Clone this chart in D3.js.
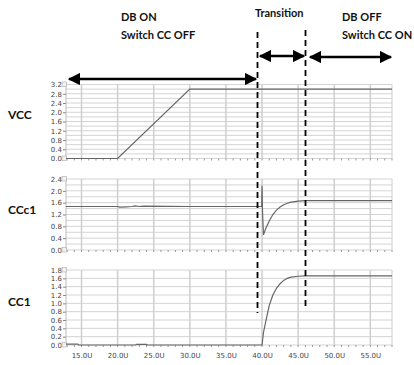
<!DOCTYPE html>
<html>
<head>
<meta charset="utf-8">
<script src="https://cdn.jsdelivr.net/npm/d3@7"></script>
<style>
  body { margin: 0; background: #fff; }
  .tick text { font-family: "DejaVu Sans", sans-serif; font-size: 7px; fill: #444; }
  .lbl { font-family: "Lato", "Open Sans", sans-serif; font-weight: bold; fill: #111; }
</style>
</head>
<body>
<div id="chart"></div>
<script>
// time axis (U = microseconds)
const xTicks = [15, 20, 25, 30, 35, 40, 45, 50, 55]

// VCC
const vccT = [12.85, 20, 30, 58]
const vccV = [0, 0, 3.0, 3.0]

// CCc1
const ccc1T = [12.85, 20, 20.3, 21.2, 22, 22.4, 23, 23.6, 30, 39.95, 40.0, 40.08, 40.2, 40.5, 41, 41.5, 42, 42.5, 43, 43.5, 44, 45, 46, 58]
const ccc1V = [1.47, 1.47, 1.45, 1.46, 1.47, 1.49, 1.47, 1.48, 1.47, 1.47, 2.17, 1.2, 0.51, 0.72, 0.98, 1.2, 1.35, 1.45, 1.53, 1.58, 1.62, 1.65, 1.67, 1.67]

// CC1
const cc1T = [12.85, 14.5, 14.6, 22.5, 22.6, 24, 24.1, 40, 40.2, 40.5, 41, 41.5, 42, 42.5, 43, 43.5, 44, 45, 46, 58]
const cc1V = [0.02, 0.02, 0, 0, 0.015, 0.015, 0, 0, 0.3, 0.55, 0.95, 1.2, 1.36, 1.47, 1.55, 1.6, 1.63, 1.65, 1.66, 1.66]

const panelNames = ["VCC", "CCc1", "CC1"]
const panelMax = [3.2, 2.4, 1.8]
const labelStep = [0.4, 0.4, 0.2]
const gridStep = [0.2, 0.2, 0.2]

const W = 414, H = 365
const svg = d3.select("#chart").append("svg").attr("width", W).attr("height", H)

const x = d3.scaleLinear().domain([12.85, 58]).range([66, 392])

const layout = [
  {top: 84.5, bottom: 158.5, labelY: 116},
  {top: 179, bottom: 250, labelY: 211},
  {top: 270, bottom: 345, labelY: 303}
]
const series = [[vccT, vccV], [ccc1T, ccc1V], [cc1T, cc1V]]

const range = (a, b, s) => d3.range(0, Math.round((b - a) / s) + 1).map(i => +(a + i * s).toFixed(2))

layout.forEach((p, i) => {
  const y = d3.scaleLinear().domain([0, panelMax[i]]).range([p.bottom, p.top])
  const g = svg.append("g")

  // horizontal grid
  g.selectAll(".hg").data(range(0, panelMax[i], gridStep[i])).enter().append("line")
    .attr("x1", x.range()[0]).attr("x2", x.range()[1])
    .attr("y1", d => y(d)).attr("y2", d => y(d))
    .attr("stroke", "#d4d4d4").attr("stroke-width", 1)

  // vertical grid
  g.selectAll(".vg").data(xTicks).enter().append("line")
    .attr("x1", d => x(d)).attr("x2", d => x(d))
    .attr("y1", p.top).attr("y2", p.bottom)
    .attr("stroke", "#cfcfcf").attr("stroke-width", 1.5)

  // frame left / right
  g.append("line").attr("x1", 66).attr("x2", 66).attr("y1", p.top).attr("y2", p.bottom).attr("stroke", "#bbb")
  g.append("line").attr("x1", 392).attr("x2", 392).attr("y1", p.top).attr("y2", p.bottom).attr("stroke", "#ccc")

  // minor ticks along bottom
  g.selectAll(".mt").data(d3.range(13, 59)).enter().append("line")
    .attr("x1", d => x(d)).attr("x2", d => x(d))
    .attr("y1", p.bottom).attr("y2", p.bottom + 2)
    .attr("stroke", "#999")

  // y axis
  const yAxis = d3.axisLeft(y).tickValues(range(0, panelMax[i], labelStep[i]))
    .tickFormat(d3.format(".1f")).tickSize(3).tickPadding(1)
  const ay = svg.append("g").attr("transform", "translate(66,0)").call(yAxis)
  ay.select(".domain").remove()
  ay.selectAll(".tick line").attr("stroke", "#888")

  // small scroll boxes
  ;[p.top, p.bottom].forEach(yy => {
    svg.append("rect").attr("x", 62).attr("y", yy - 2.5).attr("width", 4.5).attr("height", 4.5)
      .attr("fill", "#f2f2f2").attr("stroke", "#aaa").attr("stroke-width", 0.6)
  })

  // data line
  const pts = series[i][0].map((t, k) => [t, series[i][1][k]])
  svg.append("path").datum(pts)
    .attr("d", d3.line().x(d => x(d[0])).y(d => y(d[1])))
    .attr("fill", "none").attr("stroke", "#666").attr("stroke-width", 1.2)

  svg.append("text").attr("class", "lbl").attr("x", 8).attr("y", p.labelY)
    .attr("font-size", 12).attr("dominant-baseline", "middle").text(panelNames[i])
})

// x axis labels under bottom panel
const xAxis = d3.axisBottom(x).tickValues(xTicks).tickSize(0).tickPadding(8)
  .tickFormat(d => d3.format(".1f")(d) + "U")
const ax = svg.append("g").attr("transform", "translate(0,345)").call(xAxis)
ax.select(".domain").remove()

// annotations
svg.append("defs").append("marker").attr("id", "ah")
  .attr("viewBox", "0 0 10 10").attr("refX", 9).attr("refY", 5)
  .attr("markerWidth", 5).attr("markerHeight", 5).attr("orient", "auto-start-reverse")
  .append("path").attr("d", "M0,0L10,5L0,10Z").attr("fill", "#000")

const arrows = [[68, 257, 79], [259, 305, 56], [309, 392, 57]]
arrows.forEach(a => {
  svg.append("line").attr("x1", a[0] + 1).attr("x2", a[1] - 1).attr("y1", a[2]).attr("y2", a[2])
    .attr("stroke", "#000").attr("stroke-width", 2.5)
    .attr("marker-start", "url(#ah)").attr("marker-end", "url(#ah)")
})

const dashes = [[257.5, 32, 313], [305.5, 30, 308]]
dashes.forEach(d => {
  svg.append("line").attr("x1", d[0]).attr("x2", d[0]).attr("y1", d[1]).attr("y2", d[2])
    .attr("stroke", "#000").attr("stroke-width", 1.8).attr("stroke-dasharray", "6,4")
})

const notes = [
  ["DB ON", 121, 21], ["Switch CC OFF", 121, 39],
  ["Transition", 255, 17],
  ["DB OFF", 342, 21], ["Switch CC ON", 342, 39]
]
notes.forEach(n => {
  svg.append("text").attr("class", "lbl").attr("x", n[1]).attr("y", n[2])
    .attr("font-size", 11).text(n[0])
})
</script>
</body>
</html>
